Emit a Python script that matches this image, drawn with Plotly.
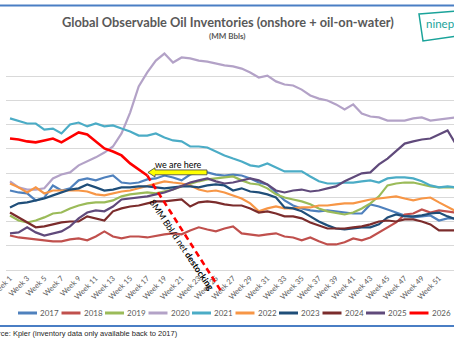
import plotly.graph_objects as go

weeks = list(range(1, 54))
years = ["2017", "2018", "2019", "2020", "2021", "2022", "2023", "2024", "2025", "2026"]
colors = ["#4F81BD", "#C0504D", "#9BBB59", "#B3A2C7", "#4BACC6",
          "#F79646", "#1F4E79", "#7B2C2C", "#604A7B", "#FF0000"]

inv_2017 = [4128, 4120, 4116, 4087, 4099, 4149, 4128, 4137, 4170, 4178,
            4170, 4182, 4190, 4161, 4157, 4161, 4174, 4178, 4190, 4182,
            4170, 4194, 4203, 4203, 4194, 4190, 4194, 4190, 4178, 4161,
            4153, 4120, 4087, 4066, 4054, 4046, 4042, 4046, 4042, 4037,
            4033, 4033, 4070, 4062, 4050, 4037, 4025, 4017, 4021, 4025,
            4004, 4013, 4013]
inv_2018 = [3942, 3934, 3930, 3926, 3922, 3918, 3918, 3926, 3930, 3922,
            3938, 3959, 3938, 3930, 3938, 3938, 3934, 3942, 3947, 3951,
            3947, 3963, 3976, 3967, 3959, 3971, 3980, 3951, 3947, 3942,
            3947, 3951, 3938, 3934, 3922, 3934, 3918, 3905, 3905, 3914,
            3930, 3922, 3934, 3955, 3976, 3996, 4029, 4033, 4050, 4037,
            4046, 4042, 4037]
inv_2019 = [4025, 4004, 3996, 4004, 4017, 4033, 4037, 4054, 4066, 4075,
            4079, 4079, 4087, 4104, 4112, 4116, 4120, 4116, 4124, 4132,
            4145, 4157, 4166, 4174, 4178, 4182, 4186, 4170, 4157, 4153,
            4137, 4112, 4099, 4091, 4083, 4071, 4054, 4042, 4037, 4029,
            4037, 4054, 4075, 4104, 4149, 4157, 4161, 4161, 4153, 4145,
            4141, 4141, 4141]
inv_2020 = [4166, 4141, 4132, 4132, 4137, 4178, 4194, 4203, 4232, 4248,
            4265, 4285, 4310, 4364, 4450, 4558, 4616, 4665, 4694, 4657,
            4678, 4674, 4665, 4661, 4653, 4645, 4641, 4632, 4616, 4595,
            4603, 4579, 4566, 4562, 4545, 4521, 4508, 4500, 4484, 4463,
            4484, 4446, 4434, 4430, 4417, 4417, 4417, 4426, 4430, 4417,
            4421, 4426, 4430]
inv_2021 = [4426, 4417, 4405, 4405, 4380, 4384, 4364, 4401, 4409, 4393,
            4405, 4393, 4397, 4384, 4372, 4355, 4355, 4364, 4347, 4335,
            4331, 4310, 4310, 4306, 4289, 4273, 4260, 4248, 4232, 4227,
            4240, 4223, 4207, 4207, 4207, 4186, 4166, 4157, 4157, 4161,
            4161, 4166, 4170, 4161, 4178, 4182, 4182, 4178, 4166, 4149,
            4141, 4145, 4141]
inv_2022 = [4157, 4141, 4120, 4141, 4116, 4128, 4128, 4128, 4128, 4124,
            4112, 4108, 4116, 4124, 4128, 4137, 4145, 4157, 4166, 4161,
            4157, 4149, 4132, 4124, 4128, 4120, 4108, 4095, 4075, 4042,
            4054, 4062, 4054, 4054, 4058, 4058, 4066, 4066, 4071, 4075,
            4075, 4083, 4091, 4095, 4099, 4104, 4095, 4087, 4095, 4099,
            4079, 4062, 4042]
inv_2023 = [4058, 4075, 4079, 4087, 4095, 4108, 4120, 4132, 4137, 4153,
            4141, 4128, 4132, 4141, 4141, 4145, 4145, 4141, 4137, 4141,
            4145, 4145, 4141, 4149, 4153, 4149, 4128, 4137, 4124, 4120,
            4112, 4099, 4058, 4054, 4042, 4021, 4000, 3984, 3971, 3967,
            3971, 3976, 3976, 3988, 4017, 4029, 4021, 4021, 4025, 4033,
            4037, 4021, 4009]
inv_2024 = [4037, 4017, 3996, 3976, 3980, 3988, 3996, 4000, 4000, 4021,
            4013, 4004, 4042, 4054, 4062, 4066, 4075, 4083, 4083, 4087,
            4091, 4062, 4079, 4083, 4079, 4071, 4066, 4066, 4054, 4037,
            4042, 4033, 4021, 4021, 4013, 3996, 3984, 3971, 3971, 3971,
            3976, 3980, 3988, 4000, 4004, 4000, 4009, 4009, 4000, 3988,
            3963, 3963, 3963]
inv_2025 = [3951, 3955, 3976, 3955, 3942, 3951, 3959, 3980, 4013, 4037,
            4046, 4042, 4062, 4091, 4095, 4099, 4104, 4112, 4120, 4132,
            4145, 4161, 4170, 4178, 4166, 4157, 4161, 4170, 4178, 4170,
            4153, 4128, 4120, 4128, 4132, 4124, 4128, 4137, 4145, 4166,
            4182, 4199, 4203, 4236, 4260, 4289, 4322, 4331, 4339, 4343,
            4360, 4376, 4318]
inv_2026 = [4343, 4339, 4331, 4327, 4335, 4343, 4327, 4347, 4368, 4360,
            4331, 4302, 4289, 4273, 4240, 4215, 4190]

# projection of net destocking (start week/value, end week/value)
proj_weeks = [17, 25.6]
proj_values = [4190, 3713]

tick_weeks = list(range(1, 52, 2))
tick_labels = [f"Week {w}" for w in tick_weeks]

series = [inv_2017, inv_2018, inv_2019, inv_2020, inv_2021,
          inv_2022, inv_2023, inv_2024, inv_2025, inv_2026]

W, H = 454, 341
ML, MR, MT, MB = 6, 0, 52, 71
PW, PH = W - ML - MR, H - MT - MB
X0, X1 = 0.534, 52.75
Y0, Y1 = 3800, 4700


def pxx(px):
    return (px - ML) / PW


def pxy(py):
    return (H - MB - py) / PH


def dx(x):
    return (x - X0) / (X1 - X0)


def dy(y):
    return (y - Y0) / (Y1 - Y0)


def note(x, y, text, size, color="#000000", family="Lato", xanchor="center",
         xref="paper", yref="paper", **kw):
    return dict(xref=xref, yref=yref, x=x, y=y, text=text, showarrow=False,
                xanchor=xanchor, yanchor="middle",
                font=dict(family=family, size=size, color=color), **kw)


fig = go.Figure()
for yr, col, vals in zip(years, colors, series):
    fig.add_trace(go.Scatter(
        x=weeks[:len(vals)], y=vals, mode="lines", name=yr,
        line=dict(color=col, width=2.6 if yr == "2026" else 2.2),
        showlegend=False, hoverinfo="skip"))

shapes = []
annotations = []

# dashed projection line
shapes.append(dict(type="line", xref="paper", yref="paper",
                   x0=dx(proj_weeks[0]), y0=dy(proj_values[0]),
                   x1=dx(proj_weeks[1]), y1=dy(proj_values[1]),
                   line=dict(color="#FF0000", width=2.6, dash="6px,4px")))

# yellow arrow "we are here"
tip_x, tail_x, head_x = 17.08, 23.96, 17.9
yc = 4203
path = (f"M {tip_x},{yc} L {head_x},{yc + 19} L {head_x},{yc + 10} "
        f"L {tail_x},{yc + 10} L {tail_x},{yc - 10} L {head_x},{yc - 10} "
        f"L {head_x},{yc - 19} Z")
shapes.append(dict(type="path", xref="x", yref="y", path=path,
                   fillcolor="#FFFF00", line=dict(color="#404040", width=0.8)))
annotations.append(note(20.6, 4236, "we are here", 9, xref="x", yref="y"))

annotations.append(note(pxx(182), pxy(244), "8MM Bbl/d net <b>destocking</b>", 9,
                        textangle=56))

# title
annotations.append(note(pxx(227.5), pxy(22),
                        "<b>Global Observable Oil Inventories (onshore + oil-on-water)</b>",
                        12.8, color="#595959"))
annotations.append(note(pxx(227.5), pxy(36), "<b>(MM Bbls)</b>", 8, color="#595959"))

# frame lines
shapes.append(dict(type="line", xref="paper", yref="paper", x0=pxx(0), x1=pxx(W),
                   y0=pxy(5.5), y1=pxy(5.5), line=dict(color="#4A7EC4", width=2)))
shapes.append(dict(type="line", xref="paper", yref="paper", x0=pxx(0), x1=pxx(W),
                   y0=pxy(326), y1=pxy(326), line=dict(color="#4A7EC4", width=2)))

# logo
shapes.append(dict(type="path", xref="paper", yref="paper",
                   path=f"M {pxx(419)},{pxy(14)} L {pxx(458)},{pxy(11)} L {pxx(458)},{pxy(36)} "
                        f"L {pxx(423)},{pxy(41)} Z",
                   line=dict(color="#1AA39A", width=1.5)))
annotations.append(note(pxx(424), pxy(23), "ninepoint", 11.5, color="#1AA39A",
                        xanchor="left"))

# source
annotations.append(note(pxx(-17), pxy(333),
                        "Source: Kpler (inventory data only available back to 2017)",
                        7.5, color="#262626", family="Liberation Sans", xanchor="left"))

# manual legend
for i, (yr, col) in enumerate(zip(years, colors)):
    sx = 18 + i * 43.5
    shapes.append(dict(type="line", xref="paper", yref="paper",
                       x0=pxx(sx), x1=pxx(sx + 19), y0=pxy(313), y1=pxy(313),
                       line=dict(color=col, width=3)))
    annotations.append(note(pxx(sx + 20), pxy(313), yr, 8, color="#595959",
                            xanchor="left"))

fig.update_layout(
    width=W, height=H,
    margin=dict(l=ML, r=MR, t=MT, b=MB, autoexpand=False),
    paper_bgcolor="white", plot_bgcolor="white",
    shapes=shapes, annotations=annotations,
    xaxis=dict(range=[X0, X1], tickmode="array", tickvals=tick_weeks,
               ticktext=tick_labels, tickangle=-45, showgrid=False,
               automargin=False, ticklabeloverflow="allow",
               zeroline=False, showline=True, linecolor="#D9D9D9", linewidth=1,
               ticks="", tickfont=dict(family="Lato", size=7.5, color="#595959")),
    yaxis=dict(range=[Y0 - 0.5, Y1 + 0.5], dtick=100, tick0=3800, showgrid=True,
               automargin=False,
               gridcolor="#D9D9D9", gridwidth=1, zeroline=False,
               showticklabels=False, ticks="", showline=False),
)

fig.write_html("out.html")
